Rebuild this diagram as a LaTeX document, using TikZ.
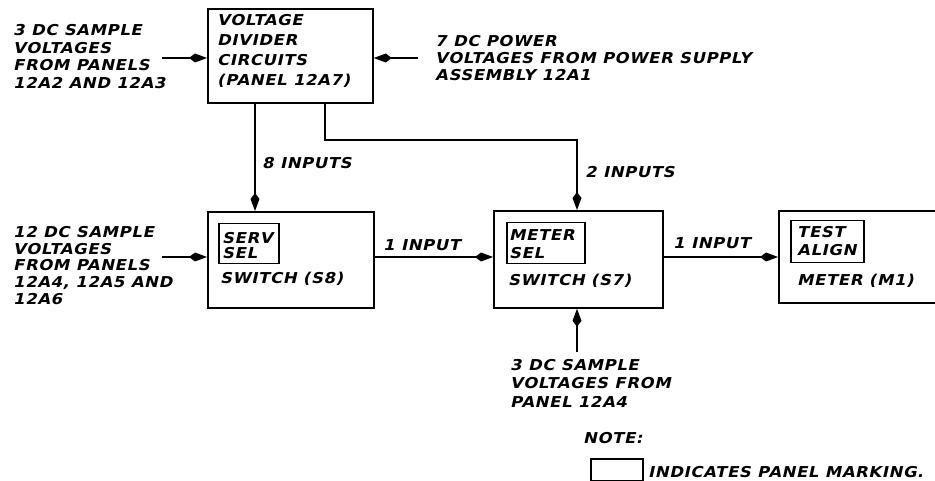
\documentclass[tikz,border=0pt]{standalone}
\usepackage{fontspec}
\newfontfamily\hand[FakeSlant=0.22,FakeStretch=1.1,LetterSpace=4]{DejaVu Sans Bold}
\usetikzlibrary{arrows.meta}
\begin{document}
\begin{tikzpicture}[x=1pt,y=-1pt,
  txt/.style={inner sep=0pt, anchor=north west, align=left, font=\hand\fontsize{15}{17.7}\selectfont},
  blk/.style={draw, line width=1.8pt, rectangle, anchor=north west, inner sep=0pt},
  panel/.style={draw, line width=1.5pt, rectangle, anchor=north west, inner sep=0pt},
  wire/.style={line width=1.5pt},
  arr/.style={wire, -{Kite[length=18pt,width=9pt,inset=6pt]}}]
\clip (0,0) rectangle (935,481);
% main blocks
\node[blk, minimum width=165pt, minimum height=94pt] (vd) at (207,8) {};
\node[blk, minimum width=166pt, minimum height=96pt] (serv) at (207,211) {};
\node[blk, minimum width=169pt, minimum height=97pt] (msel) at (493,210) {};
\node[blk, minimum width=175pt, minimum height=92pt] (meter) at (778,210) {};
% panel markings
\node[panel, minimum width=60pt, minimum height=40pt] (pserv) at (218,223) {};
\node[panel, minimum width=78pt, minimum height=41pt] (pmsel) at (506,222) {};
\node[panel, minimum width=73pt, minimum height=42pt] (pmeter) at (790,220) {};
\node[panel, minimum width=52pt, minimum height=22pt] (leg) at (590,458) {};
% texts in blocks
\node[txt, font=\hand\fontsize{15}{20}\selectfont] (tvd) at (217,14) {VOLTAGE\\DIVIDER\\CIRCUITS\\(PANEL 12A7)};
\node[txt, font=\hand\fontsize{15}{15.5}\selectfont] (tserv) at (222,232) {SERV\\SEL};
\node[txt] (tsw8) at (220,272) {SWITCH (S8)};
\node[txt, font=\hand\fontsize{15}{18}\selectfont] (tmsel) at (509,229) {METER\\SEL};
\node[txt] (tsw7) at (508,274) {SWITCH (S7)};
\node[txt, font=\hand\fontsize{15}{18}\selectfont] (ttest) at (797,226) {TEST\\ALIGN};
\node[txt] (tm1) at (797,274) {METER (M1)};
% outside texts
\node[txt] (src1) at (13,24) {3 DC SAMPLE\\VOLTAGES\\FROM PANELS\\12A2 AND 12A3};
\node[txt, font=\hand\fontsize{15}{17}\selectfont] (src2) at (435,35) {7 DC POWER\\VOLTAGES FROM POWER SUPPLY\\ASSEMBLY 12A1};
\node[txt, font=\hand\fontsize{15}{16.75}\selectfont] (src3) at (13,226) {12 DC SAMPLE\\VOLTAGES\\FROM PANELS\\12A4, 12A5 AND\\12A6};
\node[txt, font=\hand\fontsize{15}{18.5}\selectfont] (src4) at (510,359) {3 DC SAMPLE\\VOLTAGES FROM\\PANEL 12A4};
\node[txt] (l8) at (262,157) {8 INPUTS};
\node[txt] (l2) at (585,166) {2 INPUTS};
\node[txt] (l1a) at (383,239) {1 INPUT};
\node[txt] (l1b) at (673,237) {1 INPUT};
\node[txt] (note) at (583,432) {NOTE:};
\node[txt] (ind) at (648,466) {INDICATES PANEL MARKING.};
% connectors
\coordinate (inA) at (162,58);
\coordinate (inB) at (418,58);
\coordinate (inC) at (162,257);
\coordinate (inD) at (577,352);
\coordinate (j) at (577,140);
\path ([xshift=48pt]vd.south west) coordinate (d1);
\path ([xshift=118pt]vd.south west) coordinate (d2);
\path ([xshift=84pt]msel.north west) coordinate (m1);
\draw[arr] (inA) -- (inA -| vd.west);
\draw[arr] (inB) -- (inB -| vd.east);
\draw[arr] (d1) -- (d1 |- serv.north);
\draw[arr] (d2) |- (j) -- (m1);
\draw[arr] (inC) -- (inC -| serv.west);
\draw[arr] (serv.east |- inC) -- (msel.west |- inC);
\draw[arr] (msel.east |- inC) -- (meter.west |- inC);
\draw[arr] (inD) -- (inD |- msel.south);
\end{tikzpicture}
\end{document}
